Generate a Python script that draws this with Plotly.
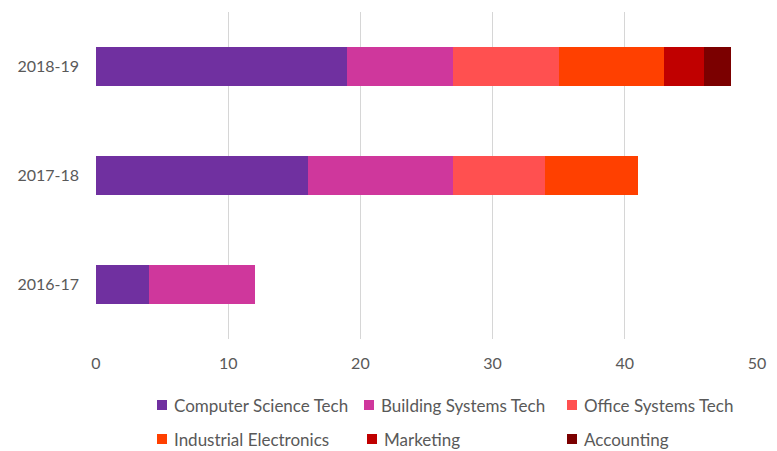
import plotly.graph_objects as go

# Enrolment counts per programme, by academic year
years = ["2016-17", "2017-18", "2018-19"]
programs = [
    "Computer Science Tech",
    "Building Systems Tech",
    "Office Systems Tech",
    "Industrial Electronics",
    "Marketing",
    "Accounting",
]
computer_science = [4, 16, 19]
building_systems = [8, 11, 8]
office_systems = [0, 7, 8]
industrial_electronics = [0, 7, 8]
marketing = [0, 0, 3]
accounting = [0, 0, 2]
x_ticks = [0, 10, 20, 30, 40, 50]

series = [computer_science, building_systems, office_systems,
          industrial_electronics, marketing, accounting]
colors = ["#7030A0", "#CF379C", "#FF5050", "#FF4000", "#C00000", "#7B0000"]

FONT = "Lato"
TEXT = "#595959"

W, H = 777, 451
M_L, M_R, M_T, M_B = 96, 20, 12, 112
PLOT_W = W - M_L - M_R
PLOT_H = H - M_T - M_B

fig = go.Figure()
for name, vals, col in zip(programs, series, colors):
    fig.add_trace(go.Bar(
        y=years, x=vals, name=name, orientation="h",
        marker=dict(color=col, line=dict(width=0)),
        showlegend=False,
    ))

# Legend below the plot: two rows of three keys (swatch left edge / row centre, px)
key_left = [157, 364, 567, 157, 367, 567]
key_mid = [405, 405, 405, 439, 439, 439]
SW = 10      # swatch size
GAP = 6      # swatch-to-label gap


def px_to_paper(px, py):
    return (px - M_L) / PLOT_W, (H - M_B - py) / PLOT_H


shapes, annotations = [], []
for name, col, kx, ky in zip(programs, colors, key_left, key_mid):
    x0, y0 = px_to_paper(kx, ky + SW / 2)
    x1, y1 = px_to_paper(kx + SW, ky - SW / 2)
    shapes.append(dict(type="rect", xref="paper", yref="paper",
                       x0=x0, x1=x1, y0=y0, y1=y1,
                       fillcolor=col, line=dict(width=0), layer="above"))
    tx, ty = px_to_paper(kx + SW + GAP, ky)
    annotations.append(dict(xref="paper", yref="paper", x=tx, y=ty,
                            xanchor="left", yanchor="middle", showarrow=False,
                            text=name, borderpad=0,
                            font=dict(family=FONT, size=17, color=TEXT)))

fig.update_layout(
    width=W, height=H,
    margin=dict(l=M_L, r=M_R, t=M_T, b=M_B),
    barmode="stack", bargap=0.64,
    paper_bgcolor="white", plot_bgcolor="white",
    font=dict(family=FONT, size=16, color=TEXT),
    showlegend=False,
    xaxis=dict(
        range=[0, 50], tickvals=x_ticks, showgrid=True,
        gridcolor="#D6D6D6", gridwidth=1.3, zeroline=False,
        showline=False, ticklabelstandoff=13, fixedrange=True,
        automargin=False,
    ),
    yaxis=dict(
        categoryorder="array", categoryarray=years,
        showgrid=False, zeroline=False, showline=False,
        ticklabelstandoff=16, fixedrange=True, automargin=False,
    ),
    shapes=shapes,
    annotations=annotations,
)

fig.write_html("out.html")
